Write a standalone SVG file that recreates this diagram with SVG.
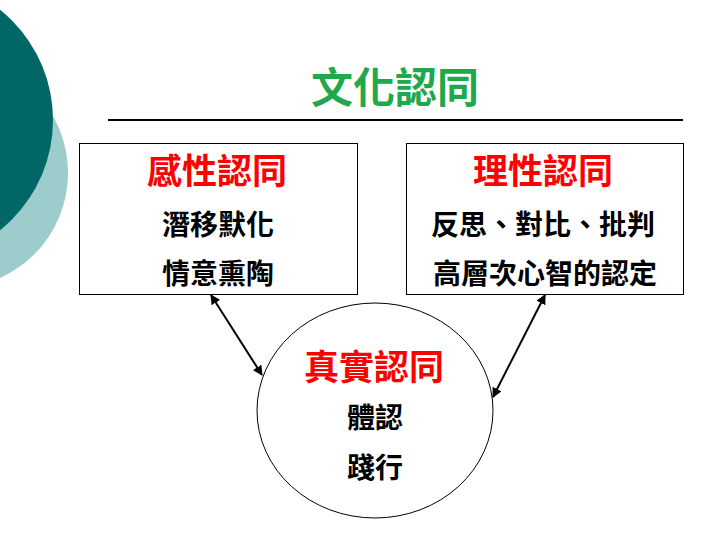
<svg xmlns="http://www.w3.org/2000/svg" width="720" height="540" viewBox="0 0 720 540">
<style>
text{font-family:"Noto Sans CJK TC","Noto Sans CJK SC",sans-serif;text-anchor:middle}
.title{font-size:42px;font-weight:bold;fill:#1FA84C}
.head{font-size:35px;font-weight:bold;fill:#FF0000}
.body{font-size:28px;font-weight:bold;fill:#000}
.box{fill:#fff;stroke:#000;stroke-width:1}
.conn{stroke:#000;stroke-width:2;fill:none}
</style>
<defs>
<marker id="ah" viewBox="0 0 10 10" refX="9" refY="5" markerWidth="5" markerHeight="5" orient="auto-start-reverse">
<path d="M0,0 L10,5 L0,10 z" fill="#000"/>
</marker>
</defs>
<rect width="720" height="540" fill="#fff"/>
<g id="decor">
<circle cx="-47" cy="173" r="115" fill="#9CCCCC"/>
<circle cx="-88" cy="120" r="141" fill="#006666"/>
</g>
<g id="title">
<text class="title" x="395" y="103">文化認同</text>
<line x1="108" y1="120" x2="683" y2="120" stroke="#000" stroke-width="2"/>
</g>
<g id="node-emotional">
<rect class="box" x="79.500" y="143.500" width="278" height="151"/>
<text class="head" x="217" y="184">感性認同</text>
<text class="body" x="218" y="235">潛移默化</text>
<text class="body" x="218" y="284">情意熏陶</text>
</g>
<g id="node-rational">
<rect class="box" x="406.500" y="143.500" width="277" height="151"/>
<text class="head" x="543" y="184">理性認同</text>
<text class="body" x="543" y="235">反思、對比、批判</text>
<text class="body" x="545" y="284">高層次心智的認定</text>
</g>
<g id="node-real">
<ellipse cx="375" cy="410.500" rx="118" ry="107.500" fill="#fff" stroke="#000" stroke-width="1"/>
<text class="head" x="374" y="380">真實認同</text>
<text class="body" x="375" y="428">體認</text>
<text class="body" x="375" y="478">踐行</text>
</g>
<g id="connectors">
<line class="conn" x1="211" y1="295" x2="262" y2="375" marker-start="url(#ah)" marker-end="url(#ah)"/>
<line class="conn" x1="545" y1="295" x2="493" y2="397" marker-start="url(#ah)" marker-end="url(#ah)"/>
</g>
</svg>
